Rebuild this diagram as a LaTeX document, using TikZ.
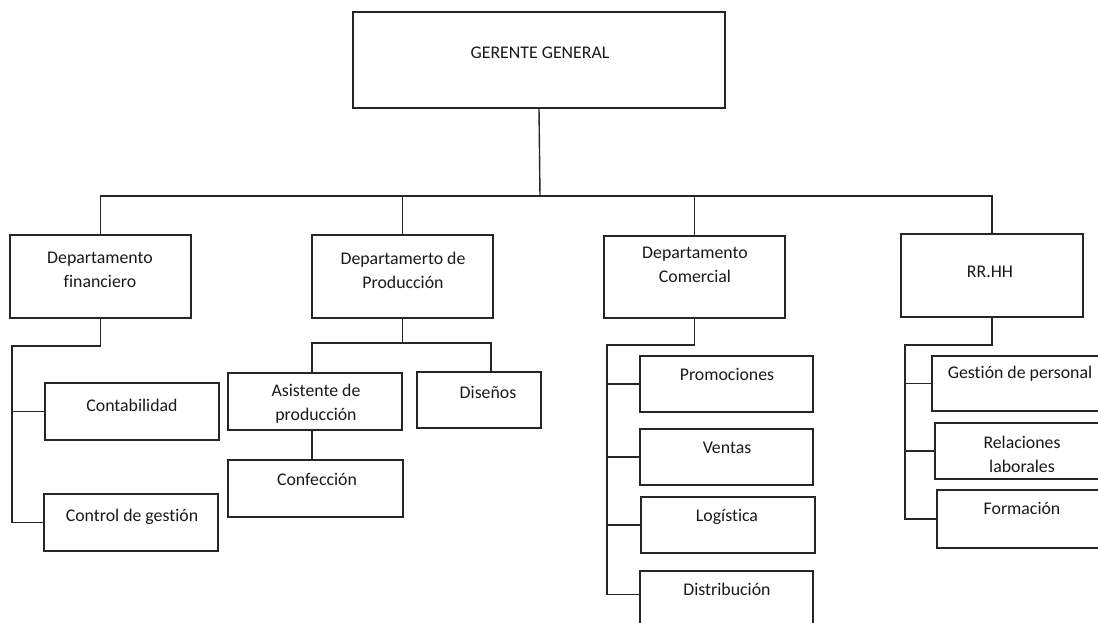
\documentclass[tikz,border=0pt]{standalone}
\usepackage{fontspec}
\setmainfont[Ligatures={NoCommon}]{Carlito}
\usetikzlibrary{calc}
\tikzset{
  boxst/.style={draw=black!85, line width=1.4pt, rectangle, inner sep=0pt},
  txt/.style={inner sep=0pt, align=center, text=black!90, font=\fontsize{17.8}{24}\selectfont},
  conn/.style={draw=black!85, line width=1.4pt}
}
\newcommand\mkbox[5]{\node[boxst, minimum width={(#4-#2)*1pt}, minimum height={(#5-#3)*1pt}] (#1) at ({(#2+#4)/2},{(#3+#5)/2}) {};}
\begin{document}
\begin{tikzpicture}[x=1pt,y=-1pt]
\useasboundingbox (0,0) rectangle (1098,622);
\clip (0,0) rectangle (1098,622);
% boxes
\mkbox{gg}{353}{12}{725}{108}
\mkbox{fin}{10}{235}{191}{318}
\mkbox{prod}{312}{235}{493}{318}
\mkbox{com}{604}{236}{785}{318}
\mkbox{rrhh}{901}{234}{1083}{317}
\mkbox{cont}{45}{383}{219}{440}
\mkbox{ctrl}{44}{494}{218}{551}
\mkbox{asis}{228}{373}{402}{430}
\mkbox{dis}{417}{372}{541}{428}
\mkbox{conf}{228}{460}{403}{517}
\mkbox{prom}{640}{356}{813}{412}
\mkbox{vent}{640}{429}{813}{485}
\mkbox{log}{641}{497}{815}{553}
\mkbox{dist}{640}{571}{813}{640}
\mkbox{gp}{932}{356}{1112}{411}
\mkbox{rl}{935}{423}{1112}{479}
\mkbox{form}{937}{490}{1112}{548}
% texts
\node[txt] (gg-t) at (540,53) {GERENTE GENERAL};
\node[txt] (fin-t) at (100,270) {Departamento\\financiero};
\node[txt] (prod-t) at (403,270) {Departamerto de\\Producción};
\node[txt] (com-t) at (695,265) {Departamento\\Comercial};
\node[txt] (rrhh-t) at (990,272) {RR.HH};
\node[txt] (cont-t) at (132,405) {Contabilidad};
\node[txt] (ctrl-t) at (132,517) {Control de gestión};
\node[txt] (asis-t) at (316,404) {Asistente de\\producción};
\node[txt] (dis-t) at (488,392) {Diseños};
\node[txt] (conf-t) at (317,479) {Confección};
\node[txt] (prom-t) at (727,374) {Promociones};
\node[txt] (vent-t) at (727,448) {Ventas};
\node[txt] (log-t) at (727,517) {Logística};
\node[txt] (dist-t) at (727,589) {Distribución};
\node[txt] (gp-t) at (1020,374) {Gestión de personal};
\node[txt] (rl-t) at (1022,454) {Relaciones\\laborales};
\node[txt] (form-t) at (1022,508) {Formación};
% connectors top level
\coordinate (bus) at (540,196);
\draw[conn] (gg.south) -- (bus);
\draw[conn] (fin.north) |- (bus) -| (rrhh.north);
\draw[conn] (prod.north) -- (prod.north |- bus);
\draw[conn] (com.north) -- (com.north |- bus);
% financiero
\coordinate (finv) at (12,346);
\draw[conn] (fin.south) |- (finv) -- (finv |- ctrl.west) -- (ctrl.west);
\draw[conn] (finv |- cont.west) -- (cont.west);
% produccion
\coordinate (pl) at (312,343);
\coordinate (pr) at (491,343);
\draw[conn] (prod.south) -- (prod.south |- pl);
\draw[conn] (asis.north -| pl) |- (pr) -- (pr |- dis.north);
\draw[conn] (asis.south -| pl) -- (conf.north -| pl);
% comercial
\coordinate (cv) at (607,345);
\coordinate (distb) at ($(dist.north west)+(0,24)$);
\draw[conn] (com.south) |- (cv) -- (cv |- distb) -- (distb);
\draw[conn] (cv |- prom.west) -- (prom.west);
\draw[conn] (cv |- vent.west) -- (vent.west);
\draw[conn] (cv |- log.west) -- (log.west);
% rrhh
\coordinate (hv) at (905,345);
\draw[conn] (rrhh.south) |- (hv) -- (hv |- form.west) -- (form.west);
\draw[conn] (hv |- gp.west) -- (gp.west);
\draw[conn] (hv |- rl.west) -- (rl.west);
\end{tikzpicture}
\end{document}
